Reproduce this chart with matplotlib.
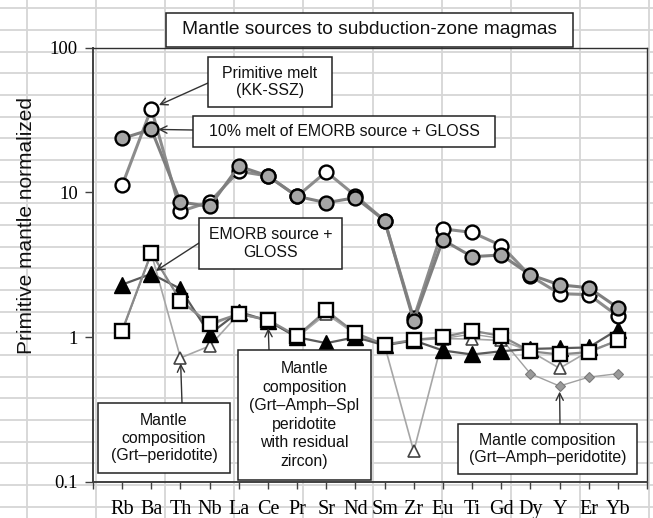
import matplotlib
matplotlib.use("Agg")
import matplotlib.pyplot as plt
import numpy as np
from matplotlib.patches import Rectangle

# ---------------- data ----------------
elements = ["Rb", "Ba", "Th", "Nb", "La", "Ce", "Pr", "Sr", "Nd", "Sm",
            "Zr", "Eu", "Ti", "Gd", "Dy", "Y", "Er", "Yb"]

primitive_melt = [11.2, 38.0, 7.4, 8.6, 14.0, 13.0, 9.4, 13.9, 9.5, 6.4,
                  1.35, 5.6, 5.3, 4.3, 2.65, 2.0, 1.97, 1.4]
melt10_emorb_gloss = [23.6, 27.3, 8.6, 8.0, 15.2, 13.0, 9.4, 8.5, 9.2, 6.4,
                      1.3, 4.7, 3.6, 3.7, 2.7, 2.3, 2.2, 1.6]
emorb_gloss = [1.11, 3.83, 1.79, 1.24, 1.45, 1.32, 1.02, 1.53, 1.07, 0.89,
               0.96, 1.0, 1.11, 1.02, 0.80, 0.76, 0.79, 0.95]
mantle_black_tri = [2.31, 2.74, 2.16, 1.05, 1.5, 1.3, 1.0, 0.91, 1.0, 0.88,
                    0.95, 0.81, 0.76, 0.80, 0.83, 0.84, 0.85, 1.13]
mantle_open_tri = [1.1, 3.8, 0.72, 0.87, 1.45, 1.3, 1.0, 1.45, 1.05, 0.88,
                   0.163, 0.98, 0.97, 0.95, 0.8, 0.61, 0.8, 0.95]
mantle_diamond = [1.1, 3.8, 1.79, 1.2, 1.45, 1.3, 1.0, 1.5, 1.05, 0.88,
                  0.95, 0.98, 1.05, 0.98, 0.56, 0.46, 0.53, 0.56]

ytick_vals = [0.1, 1, 10, 100]
ytick_labels = ["0.1", "1", "10", "100"]

W, H = 653, 518
SANS = ["Liberation Sans", "DejaVu Sans"]
SERIF = ["Liberation Serif", "DejaVu Serif"]

fig = plt.figure(figsize=(W / 100, H / 100), dpi=100)
fig.patch.set_facecolor("white")

# ---- spreadsheet-like background grid ----
bg = fig.add_axes([0, 0, 1, 1], zorder=0)
bg.set_xlim(0, W)
bg.set_ylim(H, 0)
bg.axis("off")
for k in range(24):
    bg.axhline(8.3 + 21.67 * k, color="#d6d6d6", lw=1.3)
for k in range(10):
    bg.axvline(27 + 69.1 * k, color="#d6d6d6", lw=1.3)

# ---- main axes ----
ax = fig.add_axes([93 / W, 1 - 482 / H, (647 - 93) / W, (482 - 47.7) / H], zorder=2)
ax.patch.set_alpha(0)
x = np.arange(len(elements))

ax.plot(x, mantle_diamond, color="#a0a0a0", lw=1.0, marker="D", ms=5.5,
        mfc="#9a9a9a", mec="#7a7a7a", mew=0.8, zorder=3)
ax.plot(x, mantle_open_tri, color="#a6a6a6", lw=1.2, marker="^", ms=9,
        mfc="white", mec="#444444", mew=1.2, zorder=4)
ax.plot(x, mantle_black_tri, color="#5a5a5a", lw=1.6, marker="^", ms=11,
        mfc="black", mec="black", mew=1.0, zorder=5)
ax.plot(x, emorb_gloss, color="#8a8a8a", lw=1.6, marker="s", ms=10.5,
        mfc="white", mec="black", mew=1.7, zorder=6)
ax.plot(x, primitive_melt, color="#8c8c8c", lw=2.2, marker="o", ms=10,
        mfc="white", mec="black", mew=1.7, zorder=7)
ax.plot(x, melt10_emorb_gloss, color="#7f7f7f", lw=2.2, marker="o", ms=10,
        mfc="#a6a6a6", mec="black", mew=1.7, zorder=8)

ax.set_yscale("log")
ax.set_ylim(0.1, 100)
ax.set_xlim(-1, len(elements))
ax.set_yticks(ytick_vals)
ax.set_yticklabels(ytick_labels, fontfamily=SERIF, fontsize=13.5)
ax.yaxis.set_minor_locator(matplotlib.ticker.NullLocator())
ax.set_xticks(np.arange(-1, len(elements) + 1))
ax.set_xticklabels([""] + elements + [""], fontfamily=SERIF, fontsize=14.5)
ax.tick_params(axis="y", direction="out", length=6, width=1.0, color="#404040", pad=5)
ax.tick_params(axis="x", direction="out", length=5, width=1.0, color="#404040", pad=8)
for side in ["left", "bottom"]:
    ax.spines[side].set_color("#404040")
    ax.spines[side].set_linewidth(1.4)
for side in ["top", "right"]:
    ax.spines[side].set_color("#303030")
    ax.spines[side].set_linewidth(1.0)

fig.text(27 / W, 1 - 226 / H, "Primitive mantle normalized", rotation=90,
         ha="center", va="center", fontfamily=SANS, fontsize=15, color="#111111")

# ---- overlay for boxes / annotations ----
ov = fig.add_axes([0, 0, 1, 1], zorder=3)
ov.set_xlim(0, W)
ov.set_ylim(H, 0)
ov.axis("off")
ov.patch.set_alpha(0)


def box(x0, y0, x1, y1, text, fs=11.4, ls=1.17):
    ov.add_patch(Rectangle((x0, y0), x1 - x0, y1 - y0, facecolor="white",
                           edgecolor="#222222", lw=1.1, zorder=2))
    ov.text((x0 + x1) / 2, (y0 + y1) / 2, text, ha="center", va="center",
            fontfamily=SANS, fontsize=fs, color="#111111", linespacing=ls, zorder=3)


def arrow(start, idx, val, shrink=5):
    ov.annotate("", xy=(idx, val), xycoords=ax.transData, xytext=start,
                textcoords="data",
                arrowprops=dict(arrowstyle="->", color="#333333", lw=1.0,
                                shrinkA=0, shrinkB=shrink, mutation_scale=13),
                zorder=1)


box(166, 13, 573, 47, "Mantle sources to subduction-zone magmas", fs=13.8)

box(208, 57, 332, 107, "Primitive melt\n(KK-SSZ)")
arrow((208, 83), 1, primitive_melt[1], shrink=6)

box(193, 116, 495, 147, "10% melt of EMORB source + GLOSS")
arrow((193, 130), 1, melt10_emorb_gloss[1], shrink=5)

box(199, 218, 342, 269, "EMORB source +\nGLOSS")
arrow((199, 243), 1, mantle_black_tri[1], shrink=4)

box(98, 403, 230, 473, "Mantle\ncomposition\n(Grt\u2013peridotite)")
arrow((182, 403), 2, mantle_open_tri[2], shrink=4)

box(238, 350, 371, 480, "Mantle\ncomposition\n(Grt\u2013Amph\u2013Spl\nperidotite\nwith residual\nzircon)",
    ls=1.3)
arrow((269, 350), 5, emorb_gloss[5], shrink=6)

box(458, 424, 637, 474, "Mantle composition\n(Grt\u2013Amph\u2013peridotite)")
arrow((560, 424), 15, mantle_diamond[15], shrink=4)

fig.savefig("out.png", dpi=100, facecolor="white")
